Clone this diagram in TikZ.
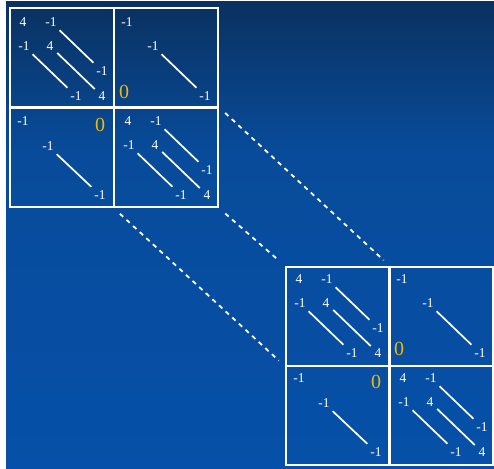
\documentclass[tikz,border=0pt]{standalone}
\usepackage{fontspec}
\setmainfont{Liberation Serif}

\definecolor{navytop}{HTML}{0A3160}
\definecolor{bluemid}{HTML}{084B9A}
\definecolor{bluelow}{HTML}{0650A9}
\definecolor{zerogold}{HTML}{EDBB00}

% one diagonal block of the matrix
\newcommand{\tridiagcell}[1]{%
  \node[num] (#1a) at (13,14) {4};
  \node[num] (#1b) at (41,14) {-1};
  \node[num] (#1c) at (14,38) {-1};
  \node[num] (#1d) at (40,38) {4};
  \node[num] (#1e) at (92,63) {-1};
  \node[num] (#1f) at (66,88) {-1};
  \node[num] (#1g) at (92,88) {4};
  \draw[diagline] (#1b) -- (#1e);
  \draw[diagline] (#1d) -- (#1g);
  \draw[diagline] (#1c) -- (#1f);
}

% upper off-diagonal block
\newcommand{\uppercell}[1]{%
  \node[num] (#1a) at (12,14) {-1};
  \node[num] (#1b) at (38,38) {-1};
  \node[num] (#1c) at (90,88) {-1};
  \node[zero] (#1z) at (9,84) {0};
  \draw[diagline] (#1b) -- (#1c);
}

% lower off-diagonal block
\newcommand{\lowercell}[1]{%
  \node[num] (#1a) at (13,14) {-1};
  \node[num] (#1b) at (38,39) {-1};
  \node[num] (#1c) at (90,88) {-1};
  \node[zero] (#1z) at (90,18) {0};
  \draw[diagline] (#1b) -- (#1c);
}

\begin{document}
\begin{tikzpicture}[x=1pt,y=-1pt,
  num/.style={text=white,font=\fontsize{13.5}{13.5}\selectfont,inner sep=1.5pt},
  zero/.style={text=zerogold,font=\fontsize{20}{20}\selectfont,inner sep=1pt},
  diagline/.style={white,line width=1.7pt,shorten >=3pt,shorten <=3pt},
  blockbox/.style={draw=white,line width=2.6pt,inner sep=0pt},
  link/.style={white,line width=1.8pt,dash pattern=on 4.5pt off 4.5pt,shorten >=8pt,shorten <=8pt}]

\useasboundingbox (0,0) rectangle (494,468);

% Background
\fill[white] (0,0) rectangle (494,468);
\shade[top color=navytop,bottom color=bluemid] (6,2) rectangle (494,150);
\shade[top color=bluemid,bottom color=bluelow] (6,150) rectangle (494,468);

% Upper matrix
\node[blockbox,minimum width=208pt,minimum height=199pt] (M1) at (114,107.5) {};
\draw[white,line width=2.6pt] (M1.north) -- (M1.south);
\draw[white,line width=2.6pt] (M1.west) -- (M1.east);
\begin{scope}[shift={(10,8)}]\tridiagcell{p}\end{scope}
\begin{scope}[shift={(115,8)}]\uppercell{q}\end{scope}
\begin{scope}[shift={(10,107)}]\lowercell{r}\end{scope}
\begin{scope}[shift={(115,107)}]\tridiagcell{s}\end{scope}

% Lower matrix
\node[blockbox,minimum width=207pt,minimum height=198pt] (M2) at (389.5,366) {};
\draw[white,line width=2.6pt] (M2.north) -- (M2.south);
\draw[white,line width=2.6pt] (M2.west) -- (M2.east);
\begin{scope}[shift={(286,265)}]\tridiagcell{t}\end{scope}
\begin{scope}[shift={(390,265)}]\uppercell{u}\end{scope}
\begin{scope}[shift={(286,364)}]\lowercell{v}\end{scope}
\begin{scope}[shift={(390,364)}]\tridiagcell{w}\end{scope}

% Dashed links
\draw[link] (M1.east) -- (M2.north);
\draw[link] (M1.south east) -- (M2.north west);
\draw[link] (M1.south) -- (M2.west);

\end{tikzpicture}
\end{document}
